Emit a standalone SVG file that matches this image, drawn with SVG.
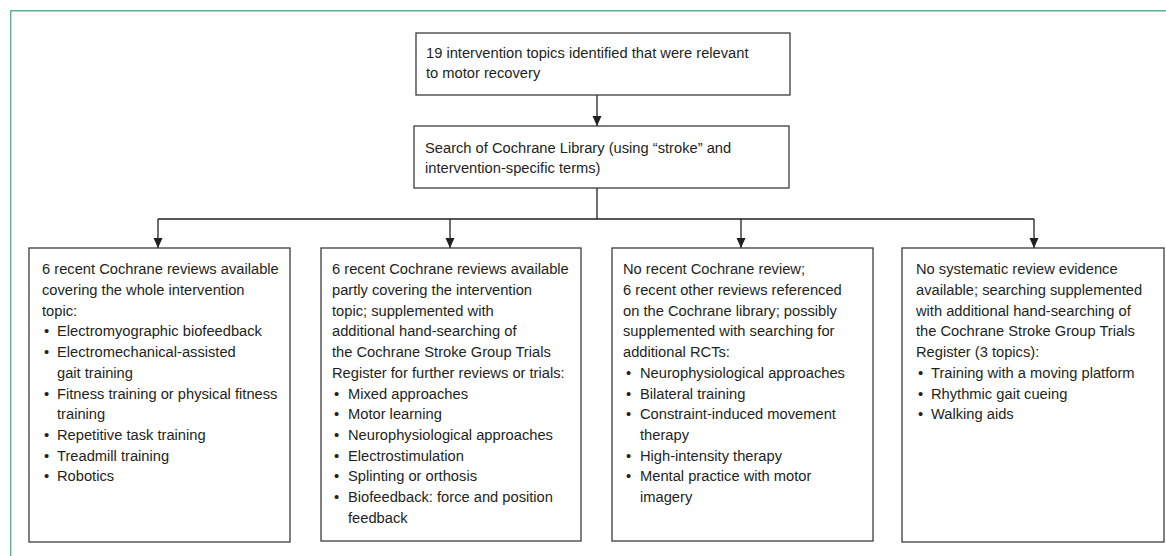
<svg xmlns="http://www.w3.org/2000/svg" width="1166" height="556" viewBox="0 0 1166 556">
<style>
  .frame{fill:none;stroke:#5fb28a;stroke-width:1.4}
  .box{fill:#fff;stroke:#3c3c3c;stroke-width:1.3}
  .t{font-family:"Liberation Sans",Arial,sans-serif;font-size:14.7px;fill:#231f20}
  .ln{fill:none;stroke:#231f20;stroke-width:1.3}
</style>
<defs>
  <marker id="ah" viewBox="0 0 10 10" refX="10" refY="5" markerWidth="10" markerHeight="10" markerUnits="userSpaceOnUse" orient="auto">
    <path d="M0,0.5 L10,5 L0,9.5 Z" fill="#231f20"/>
  </marker>
</defs>
<rect width="1166" height="556" fill="#fff"/>
<path class="frame" d="M10.7,556 L10.7,10.7 L1166,10.7"/>

<g id="connectors">
  <line class="ln" x1="597" y1="95" x2="597" y2="126" marker-end="url(#ah)"/>
  <line class="ln" x1="597" y1="188" x2="597" y2="219"/>
  <line class="ln" x1="158" y1="219" x2="1034" y2="219"/>
  <line class="ln" x1="158" y1="219" x2="158" y2="248" marker-end="url(#ah)"/>
  <line class="ln" x1="450" y1="219" x2="450" y2="248" marker-end="url(#ah)"/>
  <line class="ln" x1="741" y1="219" x2="741" y2="248" marker-end="url(#ah)"/>
  <line class="ln" x1="1034" y1="219" x2="1034" y2="248" marker-end="url(#ah)"/>
</g>

<g id="n1">
  <rect class="box" x="416" y="33" width="374" height="62"/>
  <text class="t" x="426" y="57.7">19 intervention topics identified that were relevant</text>
  <text class="t" x="426" y="78.3">to motor recovery</text>
</g>

<g id="n2">
  <rect class="box" x="414" y="126" width="375" height="62"/>
  <text class="t" x="425" y="152.7">Search of Cochrane Library (using “stroke” and</text>
  <text class="t" x="425" y="173.3">intervention-specific terms)</text>
</g>

<g id="nA">
  <rect class="box" x="29" y="248" width="261" height="294"/>
  <text class="t" x="42" y="274.3">6 recent Cochrane reviews available</text>
  <text class="t" x="42" y="295">covering the whole intervention</text>
  <text class="t" x="42" y="315.7">topic:</text>
  <text class="t" x="44" y="336.4">•</text><text class="t" x="57" y="336.4">Electromyographic biofeedback</text>
  <text class="t" x="44" y="357.1">•</text><text class="t" x="57" y="357.1">Electromechanical-assisted</text>
  <text class="t" x="57" y="377.8">gait training</text>
  <text class="t" x="44" y="398.5">•</text><text class="t" x="57" y="398.5">Fitness training or physical fitness</text>
  <text class="t" x="57" y="419.2">training</text>
  <text class="t" x="44" y="439.9">•</text><text class="t" x="57" y="439.9">Repetitive task training</text>
  <text class="t" x="44" y="460.6">•</text><text class="t" x="57" y="460.6">Treadmill training</text>
  <text class="t" x="44" y="481.3">•</text><text class="t" x="57" y="481.3">Robotics</text>
</g>

<g id="nB">
  <rect class="box" x="321" y="248" width="260" height="293"/>
  <text class="t" x="332" y="274.3">6 recent Cochrane reviews available</text>
  <text class="t" x="332" y="295">partly covering the intervention</text>
  <text class="t" x="332" y="315.7">topic; supplemented with</text>
  <text class="t" x="332" y="336.4">additional hand-searching of</text>
  <text class="t" x="332" y="357.1">the Cochrane Stroke Group Trials</text>
  <text class="t" x="332" y="377.8">Register for further reviews or trials:</text>
  <text class="t" x="334" y="398.5">•</text><text class="t" x="348" y="398.5">Mixed approaches</text>
  <text class="t" x="334" y="419.2">•</text><text class="t" x="348" y="419.2">Motor learning</text>
  <text class="t" x="334" y="439.9">•</text><text class="t" x="348" y="439.9">Neurophysiological approaches</text>
  <text class="t" x="334" y="460.6">•</text><text class="t" x="348" y="460.6">Electrostimulation</text>
  <text class="t" x="334" y="481.3">•</text><text class="t" x="348" y="481.3">Splinting or orthosis</text>
  <text class="t" x="334" y="502">•</text><text class="t" x="348" y="502">Biofeedback: force and position</text>
  <text class="t" x="348" y="522.7">feedback</text>
</g>

<g id="nC">
  <rect class="box" x="612" y="248" width="261" height="293"/>
  <text class="t" x="623" y="274.3">No recent Cochrane review;</text>
  <text class="t" x="623" y="295">6 recent other reviews referenced</text>
  <text class="t" x="623" y="315.7">on the Cochrane library; possibly</text>
  <text class="t" x="623" y="336.4">supplemented with searching for</text>
  <text class="t" x="623" y="357.1">additional RCTs:</text>
  <text class="t" x="626" y="377.8">•</text><text class="t" x="640" y="377.8">Neurophysiological approaches</text>
  <text class="t" x="626" y="398.5">•</text><text class="t" x="640" y="398.5">Bilateral training</text>
  <text class="t" x="626" y="419.2">•</text><text class="t" x="640" y="419.2">Constraint-induced movement</text>
  <text class="t" x="640" y="439.9">therapy</text>
  <text class="t" x="626" y="460.6">•</text><text class="t" x="640" y="460.6">High-intensity therapy</text>
  <text class="t" x="626" y="481.3">•</text><text class="t" x="640" y="481.3">Mental practice with motor</text>
  <text class="t" x="640" y="502">imagery</text>
</g>

<g id="nD">
  <rect class="box" x="902" y="248" width="262" height="294"/>
  <text class="t" x="916" y="274.3">No systematic review evidence</text>
  <text class="t" x="916" y="295">available; searching supplemented</text>
  <text class="t" x="916" y="315.7">with additional hand-searching of</text>
  <text class="t" x="916" y="336.4">the Cochrane Stroke Group Trials</text>
  <text class="t" x="916" y="357.1">Register (3 topics):</text>
  <text class="t" x="918" y="377.8">•</text><text class="t" x="931" y="377.8">Training with a moving platform</text>
  <text class="t" x="918" y="398.5">•</text><text class="t" x="931" y="398.5">Rhythmic gait cueing</text>
  <text class="t" x="918" y="419.2">•</text><text class="t" x="931" y="419.2">Walking aids</text>
</g>
</svg>
